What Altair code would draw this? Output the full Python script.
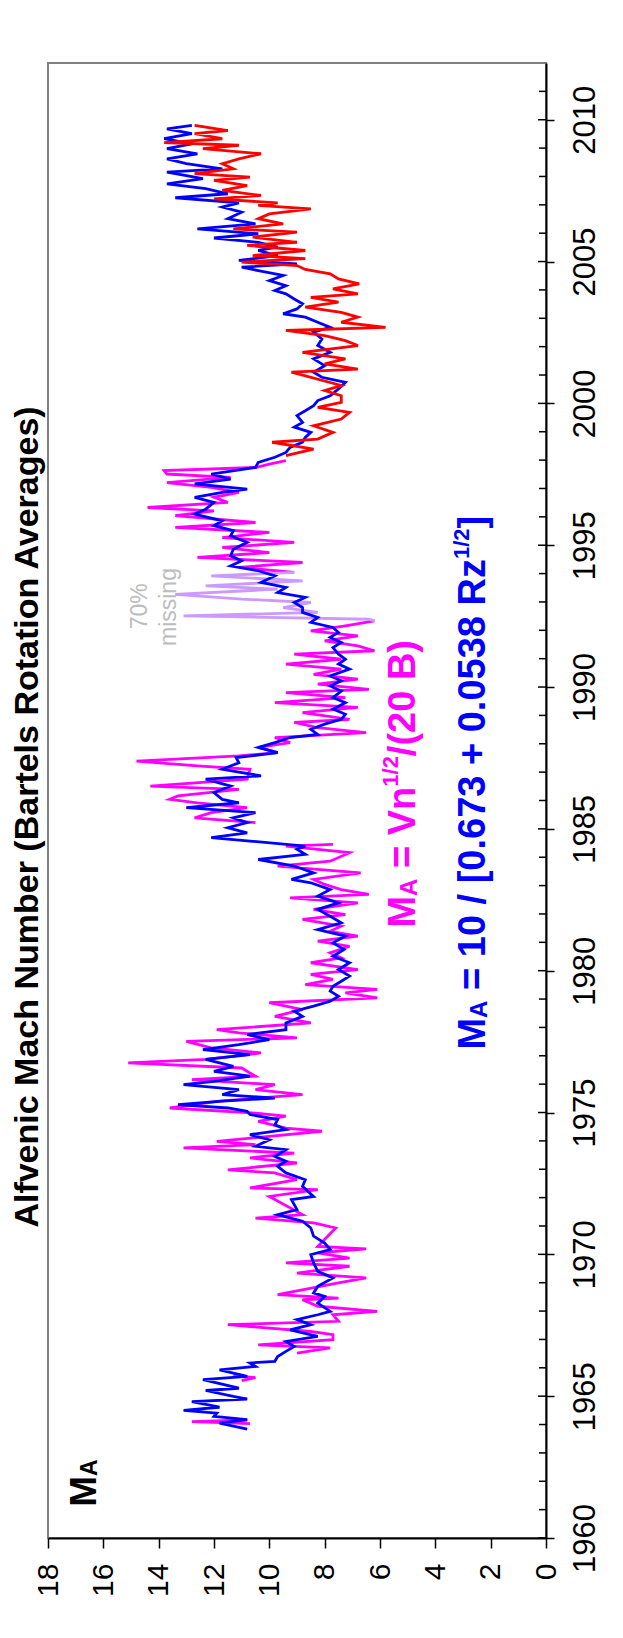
import altair as alt
import pandas as pd

FONT = "Liberation Sans, Arial, Helvetica, sans-serif"

# ---------------- data (year, Alfvenic Mach number) ----------------
BLUE = [
    (1963.84, 10.8), (1964.05, 11.8), (1964.17, 10.8), (1964.29, 12.0), (1964.40, 11.9),
    (1964.50, 13.1), (1964.61, 11.8), (1964.81, 12.8), (1964.90, 10.8), (1964.99, 11.3),
    (1965.20, 12.3), (1965.28, 11.1), (1965.58, 12.4), (1965.70, 10.8), (1965.93, 11.8),
    (1966.05, 10.5), (1966.17, 10.7), (1966.23, 9.8), (1966.40, 9.7), (1966.58, 9.4),
    (1966.75, 9.1), (1966.93, 9.4), (1967.11, 8.25), (1967.34, 9.25), (1967.52, 8.5),
    (1967.70, 9.0), (1967.87, 8.25), (1967.99, 7.8), (1968.28, 8.25), (1968.52, 8.0),
    (1968.64, 8.4), (1968.87, 8.25), (1969.17, 7.7), (1969.40, 8.25), (1969.70, 8.4),
    (1969.99, 8.5), (1970.17, 7.8), (1970.40, 8.0), (1970.64, 8.4), (1970.93, 8.5),
    (1971.17, 8.8), (1971.40, 9.7), (1971.58, 9.0), (1971.93, 9.2),
    (1972.04, 8.4), (1972.40, 8.8), (1972.63, 8.7), (1972.87, 9.4), (1973.10, 9.7),
    (1973.28, 9.4), (1973.45, 9.8), (1973.69, 9.4), (1973.81, 10.5), (1974.04, 10.0),
    (1974.22, 10.7), (1974.40, 9.4), (1974.57, 9.8), (1974.75, 9.7), (1974.93, 10.7),
    (1975.04, 10.8), (1975.16, 11.5), (1975.28, 13.3), (1975.40, 11.7), (1975.51, 9.8),
    (1975.63, 11.7), (1975.81, 11.1), (1975.98, 13.1), (1976.10, 12.0), (1976.28, 10.7),
    (1976.45, 12.0), (1976.63, 11.3), (1976.87, 12.3), (1977.04, 10.7), (1977.22, 12.4),
    (1977.39, 11.1), (1977.57, 10.0), (1977.75, 10.8), (1977.92, 9.4), (1978.16, 9.4),
    (1978.39, 8.8), (1978.57, 9.1), (1978.75, 8.4), (1978.92, 7.8), (1979.10, 7.5),
    (1979.28, 7.8), (1979.45, 7.7), (1979.63, 7.4), (1979.81, 7.1), (1980.04, 7.5),
    (1980.28, 7.1), (1980.51, 7.7), (1980.75, 7.3), (1980.98, 7.7), (1981.22, 7.25),
    (1981.45, 8.25), (1981.69, 7.4), (1981.92, 7.8), (1982.16, 8.25), (1982.39, 7.5),
    (1982.63, 8.25), (1982.86, 7.8), (1983.10, 8.5), (1983.22, 9.2), (1983.45, 8.4),
    (1983.69, 9.1), (1983.92, 10.4), (1984.10, 8.7), (1984.28, 9.0), (1984.39, 8.7),
    (1984.57, 10.7), (1984.69, 12.1), (1984.86, 10.8), (1985.04, 11.5), (1985.22, 10.8),
    (1985.39, 11.3), (1985.57, 10.5), (1985.75, 13.0), (1985.92, 11.1),
    (1986.04, 11.7), (1986.28, 12.0), (1986.51, 11.4), (1986.75, 12.3), (1986.87, 10.3),
    (1987.10, 11.7), (1987.33, 11.1), (1987.51, 11.2), (1987.69, 9.7), (1987.87, 10.4),
    (1988.04, 9.8), (1988.22, 9.25), (1988.33, 8.25), (1988.51, 8.5), (1988.69, 8.0),
    (1988.86, 7.4), (1989.04, 7.25), (1989.22, 7.7), (1989.45, 7.25), (1989.63, 7.7),
    (1989.86, 7.4), (1990.04, 7.8), (1990.22, 7.4), (1990.39, 7.8), (1990.63, 7.1),
    (1990.81, 7.5), (1990.98, 7.25), (1991.16, 7.5), (1991.39, 7.7), (1991.57, 7.4),
    (1991.75, 7.8), (1991.92, 7.5), (1992.10, 7.7), (1992.28, 8.5), (1992.45, 8.25),
    (1992.63, 8.8), (1992.80, 8.8), (1992.98, 9.1), (1993.16, 8.7), (1993.33, 9.7),
    (1993.51, 9.4), (1993.69, 10.3), (1993.92, 9.8), (1994.10, 10.4), (1994.27, 11.4),
    (1994.45, 11.0), (1994.63, 11.4), (1994.86, 11.3), (1995.10, 10.8), (1995.33, 11.4),
    (1995.51, 11.3), (1995.69, 12.0), (1995.86, 11.7), (1996.10, 12.7), (1996.27, 12.3),
    (1996.51, 12.0), (1996.69, 12.7), (1996.86, 11.7), (1996.98, 10.8), (1997.16, 12.7),
    (1997.33, 11.4), (1997.51, 12.1), (1997.74, 10.5), (1997.92, 10.4), (1998.10, 9.8),
    (1998.27, 9.4), (1998.45, 9.25), (1998.63, 8.8), (1998.80, 8.7), (1998.98, 8.5),
    (1999.16, 9.1), (1999.33, 8.8), (1999.57, 9.0), (1999.74, 8.7), (1999.92, 8.4),
    (2000.10, 8.25), (2000.27, 7.8), (2000.51, 7.5), (2000.74, 7.25), (2000.92, 8.1),
    (2001.10, 8.4), (2001.33, 8.0), (2001.57, 8.4), (2001.80, 7.8), (2002.04, 8.25),
    (2002.27, 8.1), (2002.51, 8.4), (2002.68, 7.8), (2002.86, 8.25), (2003.04, 8.7),
    (2003.16, 9.5), (2003.33, 9.0), (2003.51, 8.8), (2003.68, 9.1), (2003.86, 9.4),
    (2003.98, 9.8), (2004.15, 9.4), (2004.33, 10.0), (2004.51, 9.5), (2004.68, 10.4),
    (2004.80, 11.0), (2004.92, 9.0), (2005.04, 11.1), (2005.21, 9.7), (2005.39, 10.4),
    (2005.51, 9.7), (2005.68, 10.4), (2005.83, 12.0), (2005.98, 10.4), (2006.15, 12.6),
    (2006.33, 10.5), (2006.51, 11.5), (2006.74, 11.0), (2006.92, 11.7), (2007.07, 11.1),
    (2007.25, 13.4), (2007.39, 11.5), (2007.57, 12.3), (2007.74, 13.7), (2007.92, 12.4),
    (2008.15, 13.7), (2008.27, 11.7), (2008.45, 13.0), (2008.62, 13.7), (2008.80, 12.6),
    (2008.98, 13.7), (2009.15, 12.8), (2009.33, 13.8), (2009.51, 12.8), (2009.68, 13.7),
    (2009.80, 12.8),
]

# None marks a data gap
MAGENTA = [
    (1964.03, 10.7), (1964.10, 12.8), (1964.16, 10.8), (1964.80, None),
    (1965.55, 11.0), (1965.65, 10.5), (1965.72, 11.3), (1966.10, None),
    (1966.52, 9.0), (1966.70, 7.8), (1966.81, 10.4), (1966.99, 7.7), (1967.17, 7.7),
    (1967.28, 8.5), (1967.52, 11.5), (1967.64, 7.5), (1967.87, 7.7), (1967.99, 6.1),
    (1968.17, 8.25), (1968.40, 8.8), (1968.46, 7.5), (1968.58, 9.7), (1968.99, 7.5),
    (1969.17, 6.5), (1969.34, 9.0), (1969.58, 7.1), (1969.70, 9.4), (1969.87, 7.1),
    (1970.05, 8.25), (1970.19, 6.5), (1970.28, 8.25), (1970.93, 7.6), (1971.11, 8.4),
    (1971.28, 10.5), (1971.40, 8.8), (1972.04, 10.0), (1972.28, 8.25), (1972.34, 10.7),
    (1972.63, 9.0), (1972.87, 9.8), (1972.98, 11.5), (1973.22, 9.0), (1973.40, 10.7),
    (1973.57, 9.1), (1973.75, 13.1), (1973.87, 10.5), (1973.98, 11.9), (1974.34, 8.1),
    (1974.45, 9.4), (1974.69, 10.4), (1974.87, 9.4), (1974.98, 10.5), (1975.16, 13.6),
    (1975.40, 11.8), (1975.63, 8.8), (1975.81, 10.5), (1975.98, 9.8), (1976.16, 12.8),
    (1976.28, 10.5), (1976.57, 11.0), (1976.75, 15.1), (1976.87, 12.3), (1977.10, 10.3),
    (1977.28, 12.1), (1977.51, 13.0), (1977.63, 9.0), (1977.81, 11.1), (1977.92, 11.9),
    (1978.16, 8.5), (1978.39, 9.8), (1978.63, 8.8), (1978.87, 10.0), (1979.04, 6.1),
    (1979.22, 7.25), (1979.34, 6.1), (1979.51, 8.7), (1979.69, 7.7), (1979.87, 8.5),
    (1980.04, 6.8), (1980.28, 8.5), (1980.45, 7.4), (1980.63, 7.8), (1980.86, 7.1),
    (1981.04, 8.25), (1981.22, 6.8), (1981.39, 7.8), (1981.57, 7.4), (1981.81, 8.8),
    (1981.98, 7.25), (1982.16, 8.4), (1982.39, 6.8), (1982.57, 9.25), (1982.69, 6.4),
    (1982.86, 7.4), (1983.04, 8.0), (1983.22, 8.4), (1983.45, 6.7), (1983.69, 9.7),
    (1983.86, 7.8), (1984.16, 7.1), (1984.39, 9.4), (1984.45, 7.7), (1984.80, None),
    (1985.22, 10.5), (1985.39, 12.7), (1985.57, 12.1), (1985.75, 10.8), (1985.92, 12.6),
    (1986.04, 13.6), (1986.16, 13.3), (1986.39, 11.1), (1986.51, 14.3), (1986.75, 10.8),
    (1987.10, 10.7), (1987.22, 12.6), (1987.39, 14.8), (1987.57, 11.1), (1987.69, 9.7),
    (1987.87, 10.4), (1988.04, 9.25), (1988.22, 9.8), (1988.39, 6.5), (1988.57, 8.25),
    (1988.75, 9.1), (1988.86, 7.1), (1989.10, 8.8), (1989.28, 6.8), (1989.45, 9.8),
    (1989.63, 7.25), (1989.80, 9.4), (1989.92, 6.4), (1990.10, 8.25), (1990.28, 6.8),
    (1990.45, 8.4), (1990.63, 7.4), (1990.81, 9.4), (1990.98, 7.4), (1991.16, 9.1),
    (1991.28, 6.2), (1991.45, 6.8), (1991.63, 8.0), (1991.80, 6.8), (1991.98, 8.5),
    (1992.16, 7.25), (1992.33, 6.2), (1993.00, None),
    (1994.04, 9.1), (1994.22, 11.1), (1994.39, 8.8), (1994.57, 12.6), (1994.74, 10.0),
    (1994.92, 11.7), (1995.10, 9.1), (1995.27, 11.7), (1995.45, 10.0), (1995.63, 13.4),
    (1995.80, 10.5), (1996.04, 13.4), (1996.21, 12.0), (1996.33, 14.4), (1996.51, 11.5),
    (1996.69, 12.0), (1996.86, 11.1), (1997.04, 12.1), (1997.21, 13.7), (1997.39, 11.4),
    (1997.51, 13.7), (1997.63, 13.8), (1997.74, 10.5), (1997.86, 10.0), (1997.98, 9.4),
]

# the 1992-1994 stretch with 70% of the data missing
LAVENDER = [
    (1992.33, 6.2), (1992.39, 6.4), (1992.51, 13.1), (1992.63, 8.25), (1992.80, 9.5),
    (1992.98, 8.5), (1993.10, 11.0), (1993.27, 13.4), (1993.45, 9.7), (1993.57, 12.3),
    (1993.74, 8.8), (1993.92, 12.1), (1994.04, 9.1),
]

RED = [
    (1998.16, 9.4), (1998.39, 8.4), (1998.63, 9.9), (1998.74, 8.25), (1998.98, 7.7),
    (1999.21, 8.4), (1999.45, 7.4), (1999.68, 7.1), (1999.86, 8.25), (2000.04, 7.4),
    (2000.27, 7.4), (2000.45, 8.0), (2000.63, 7.4), (2001.10, 9.2), (2001.21, 6.8),
    (2001.39, 8.0), (2001.57, 7.25), (2001.80, 8.8), (2002.04, 6.8), (2002.21, 7.25),
    (2002.39, 8.0), (2002.57, 9.4), (2002.68, 5.8), (2002.86, 7.4), (2003.04, 6.8),
    (2003.21, 7.4), (2003.39, 8.7), (2003.57, 7.5), (2003.74, 8.5), (2003.86, 6.8),
    (2004.04, 7.7), (2004.21, 6.75), (2004.39, 7.5), (2004.57, 7.8), (2004.72, 8.7),
    (2004.86, 9.0), (2004.98, 11.0), (2005.10, 8.7), (2005.21, 10.6), (2005.39, 8.7),
    (2005.57, 10.8), (2005.68, 9.0), (2005.86, 10.6), (2006.04, 9.0), (2006.15, 11.3),
    (2006.33, 9.5), (2006.51, 10.4), (2006.68, 10.0), (2006.86, 8.5), (2006.98, 10.4),
    (2007.07, 9.7), (2007.21, 12.0), (2007.33, 10.3), (2007.51, 11.7), (2007.68, 10.8),
    (2007.86, 12.0), (2007.98, 10.7), (2008.10, 12.7), (2008.27, 11.3), (2008.45, 11.7),
    (2008.62, 11.1), (2008.80, 10.3), (2008.98, 12.4), (2009.10, 11.1), (2009.19, 13.8),
    (2009.33, 11.7), (2009.51, 12.7), (2009.62, 11.5), (2009.80, 12.7),
]

MACH_TICKS = list(range(0, 19, 2))
YEAR_TICKS = list(range(1960, 2011, 5))
YEAR_MINOR = [y for y in range(1961, 2012) if y % 5 != 0]
YEAR_DOMAIN = [1960, 2012]
MACH_DOMAIN = [0, 18]

TITLE = "Alfvenic Mach Number (Bartels Rotation Averages)"

# ---------------- layout ----------------
W, H = 498, 1475

x_scale = alt.Scale(domain=MACH_DOMAIN, reverse=True, nice=False, zero=False)
y_scale = alt.Scale(domain=YEAR_DOMAIN, nice=False, zero=False)

x_axis = alt.Axis(values=MACH_TICKS, labelAngle=270, labelAlign="right", labelBaseline="middle",
                  labelFontSize=30, labelFont=FONT, labelColor="black", labelPadding=15,
                  tickSize=10, tickColor="black", tickWidth=1.5, domainColor="black",
                  domainWidth=2, grid=False, title=None, labelFlush=False, labelOverlap=False)
y_axis = alt.Axis(orient="right", values=YEAR_TICKS, format="d", labelAngle=270,
                  labelAlign="center", labelBaseline="top", labelFontSize=31, labelFont=FONT,
                  labelColor="black", labelPadding=16, tickSize=8, tickColor="black",
                  tickWidth=1.5, domainColor="black", domainWidth=2, grid=False, title=None,
                  labelFlush=False, labelOverlap=False)


def X(field="mach"):
    return alt.X(f"{field}:Q", scale=x_scale, axis=x_axis)


def Y(field="year"):
    return alt.Y(f"{field}:Q", scale=y_scale, axis=y_axis)


def series_df(pairs):
    rows, seg = [], 0
    for yr, v in pairs:
        if v is None:
            seg += 1
            continue
        rows.append({"year": yr, "mach": v, "seg": seg})
    return pd.DataFrame(rows)


def line(pairs, color, width=2.8):
    return alt.Chart(series_df(pairs)).mark_line(color=color, strokeWidth=width).encode(
        x=X(), y=Y(), order=alt.Order("year:Q"), detail="seg:N")


# Arial/Liberation Sans Bold advance widths (per 1000 em)
AB = {" ": 278, "(": 333, ")": 333, "+": 584, ".": 278, "/": 278, "=": 584, "[": 333,
      "]": 333, "A": 722, "B": 722, "M": 833, "R": 722, "V": 667, "n": 611, "z": 500}
for d in "0123456789":
    AB[d] = 556


def tw(s, size):
    return sum(AB[c] for c in s) * size / 1000.0


def rich_text(pieces, year0, mach0, color):
    """Pieces of rotated text laid out one after another along the text direction."""
    layers, off = [], 0.0
    df = pd.DataFrame({"year": [year0], "mach": [mach0]})
    for text, size, shift in pieces:
        core = text.strip(" ")
        lead = len(text) - len(text.lstrip(" "))
        start = off + tw(" " * lead, size)
        layers.append(alt.Chart(df).mark_text(
            angle=270, align="left", baseline="alphabetic", fontSize=size, fontWeight="bold",
            font=FONT, color=color, dx=start, dy=shift, text=core).encode(x=X(), y=Y()))
        off += tw(text, size)
    return layers


layers = [
    line(MAGENTA, "#FF00FF"),
    line(LAVENDER, "#CC99FF"),
    line(BLUE, "#0000FF"),
    line(RED, "#FF0000"),
]

# inward tick marks on the year axis
tick_major = alt.Chart(pd.DataFrame({"year": YEAR_TICKS})).mark_rule(color="black", strokeWidth=1.5).encode(
    y=Y(), x=alt.value(W - 8), x2=alt.value(W))
tick_minor = alt.Chart(pd.DataFrame({"year": YEAR_MINOR})).mark_rule(color="black", strokeWidth=1.5).encode(
    y=Y(), x=alt.value(W - 7), x2=alt.value(W + 1))
layers += [tick_major, tick_minor]

# title (rotated)
title = alt.Chart(pd.DataFrame({"t": [TITLE]})).mark_text(
    angle=270, align="center", baseline="alphabetic", fontSize=34, fontWeight="bold",
    font=FONT, color="black").encode(text="t:N", x=alt.value(-10), y=alt.value(754))
layers.append(title)

# "M_A" label
layers += rich_text([("M", 37, 0), ("A", 23, 1)], 1961.1, 16.25, "black")

# formulas
layers += rich_text([("M", 38, 0), ("A", 24, 2), (" = Vn", 38, 0), ("1/2", 22, -17),
                     ("/(20 B)", 38, 0)], 1981.52, 4.73, "#FF00FF")
layers += rich_text([("M", 38, 0), ("A", 24, 2), (" = 10 / [0.673 + 0.0538 Rz", 38, 0),
                     ("1/2", 22, -16), ("]", 38, 0)], 1977.22, 2.2, "#0000FF")

# "70% missing" note
note = pd.DataFrame({"year": [1992.85, 1992.82], "mach": [14.41, 13.37], "t": ["70%", "missing"]})
layers.append(alt.Chart(note).mark_text(
    angle=270, align="center", baseline="alphabetic", fontSize=23, font=FONT,
    color="#BDBDBD").encode(x=X(), y=Y(), text="t:N"))

chart = alt.layer(*layers).properties(
    width=W, height=H,
    autosize=alt.AutoSizeParams(type="none"),
    padding={"left": 40, "top": 55, "right": 69, "bottom": 84},
    background="white",
).configure_view(stroke="#808080", strokeWidth=2)

chart.save("out.html", embed_options={"renderer": "svg", "actions": False})
